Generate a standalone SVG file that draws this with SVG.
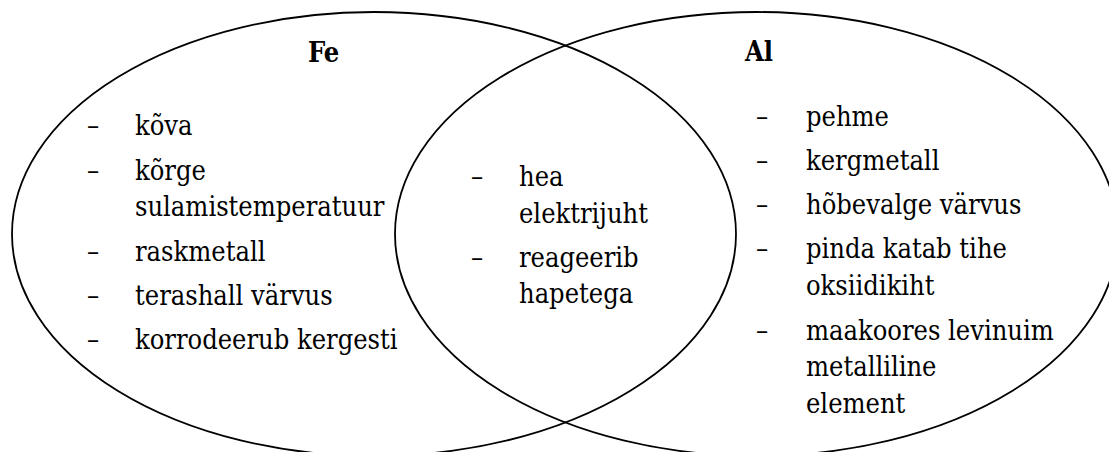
<svg xmlns="http://www.w3.org/2000/svg" width="1109" height="452" viewBox="0 0 1109 452">
<style>
.e{fill:none;stroke:#000;stroke-width:1.8}
text{font-family:'DejaVu Serif','Liberation Serif',serif;font-stretch:condensed;font-size:27px;fill:#000}
.h{font-weight:bold}
</style>
<rect width="1109" height="452" fill="#fff"/>
<g id="connectors"></g>
<g id="fe">
<ellipse class="e" cx="374" cy="234" rx="362" ry="222"/>
<text class="h" x="308" y="62">Fe</text>
<text x="87" y="135">–</text><text x="135" y="135">kõva</text>
<text x="87" y="179.5">–</text><text x="135" y="179.5">kõrge</text>
<text x="135" y="216">sulamistemperatuur</text>
<text x="87" y="260.5">–</text><text x="135" y="260.5">raskmetall</text>
<text x="87" y="305">–</text><text x="135" y="305">terashall värvus</text>
<text x="87" y="349">–</text><text x="135" y="349">korrodeerub kergesti</text>
</g>
<g id="al">
<ellipse class="e" cx="756.5" cy="234" rx="361.5" ry="222"/>
<text class="h" x="745" y="61">Al</text>
<text x="756" y="126">–</text><text x="806" y="126">pehme</text>
<text x="756" y="170">–</text><text x="806" y="170">kergmetall</text>
<text x="756" y="214">–</text><text x="806" y="214">hõbevalge värvus</text>
<text x="756" y="258">–</text><text x="806" y="258">pinda katab tihe</text>
<text x="806" y="295">oksiidikiht</text>
<text x="756" y="339.5">–</text><text x="806" y="339.5">maakoores levinuim</text>
<text x="806" y="376">metalliline</text>
<text x="806" y="413">element</text>
</g>
<g id="common">
<text x="471" y="186">–</text><text x="519" y="186">hea</text>
<text x="519" y="222.5">elektrijuht</text>
<text x="471" y="266.5">–</text><text x="519" y="266.5">reageerib</text>
<text x="519" y="303">hapetega</text>
</g>
</svg>
